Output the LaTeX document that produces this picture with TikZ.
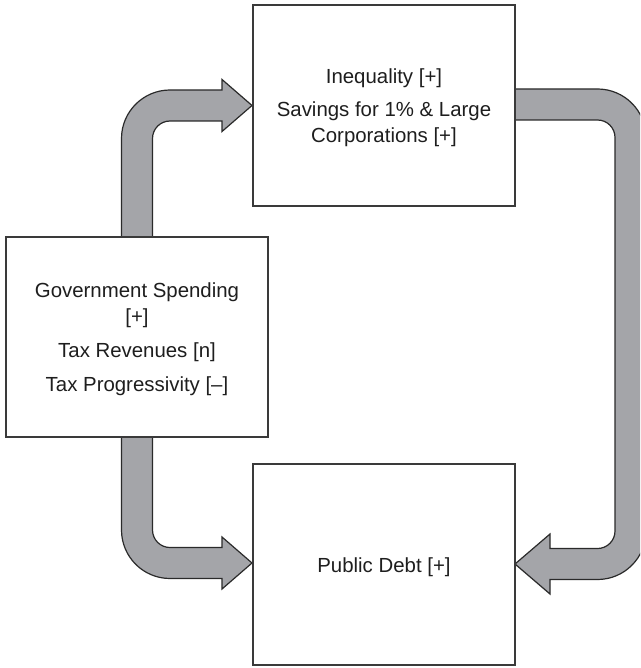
\documentclass[tikz,border=0pt]{standalone}
\usepackage{fontspec}
\setmainfont{Liberation Sans}
\begin{document}
\begin{tikzpicture}[x=1pt,y=1pt,
  box/.style={draw=boxline,line width=1.3pt,fill=white,minimum width=262pt,minimum height=201pt,inner sep=0pt},
  lbl/.style={inner sep=0pt,align=center,text=txt,font=\fontsize{20.4}{26}\selectfont,yshift=-2.7pt},
  fatarrow/.style={draw=arrline,line width=1.2pt,fill=arrfill,line join=miter}]
\definecolor{boxline}{HTML}{3A3A3A}
\definecolor{arrline}{HTML}{2A2A2A}
\definecolor{arrfill}{HTML}{A4A5A9}
\definecolor{txt}{HTML}{1E1E1E}
\clip (0,0) rectangle (640,-668);
\fill[white] (0,0) rectangle (640,-668);
% arrows
\draw[fatarrow] (121.5,-237) -- (121.5,-138.5) arc[start angle=180,end angle=90,radius=48.5] -- (222,-90) -- (222,-79.5) -- (252,-105.5) -- (222,-131.5) -- (222,-121) -- (170,-121) arc[start angle=90,end angle=180,radius=17.5] -- (152.5,-237) -- cycle;
\draw[fatarrow] (121.5,-437) -- (121.5,-530) arc[start angle=180,end angle=270,radius=48.5] -- (222,-578.5) -- (222,-589) -- (252,-563) -- (222,-537) -- (222,-547.5) -- (170,-547.5) arc[start angle=270,end angle=180,radius=17.5] -- (152.5,-437) -- cycle;
\draw[fatarrow] (515,-89) -- (597.5,-89) arc[start angle=90,end angle=0,radius=48.5] -- (646,-531) arc[start angle=0,end angle=-90,radius=48.5] -- (550,-579.5) -- (550,-594) -- (515,-564) -- (550,-534) -- (550,-548.5) -- (597.5,-548.5) arc[start angle=-90,end angle=0,radius=17.5] -- (615,-137.5) arc[start angle=0,end angle=90,radius=17.5] -- (515,-120) -- cycle;
% boxes
\node[box] (top) at (384,-105.5) {};
\node[box,minimum height=200pt] (left) at (137,-337) {};
\node[box] (bottom) at (384,-564.5) {};
% texts
\node[lbl] (toptxt) at (top.center) {Inequality [+]\\[7pt]Savings for 1\% \& Large\\Corporations [+]};
\node[lbl] (lefttxt) at (left.center) {Government Spending\\{}[+]\\[8pt]Tax Revenues [n]\\[8pt]Tax Progressivity [–]};
\node[lbl] (bottomtxt) at (bottom.center) {Public Debt [+]};
\end{tikzpicture}
\end{document}
